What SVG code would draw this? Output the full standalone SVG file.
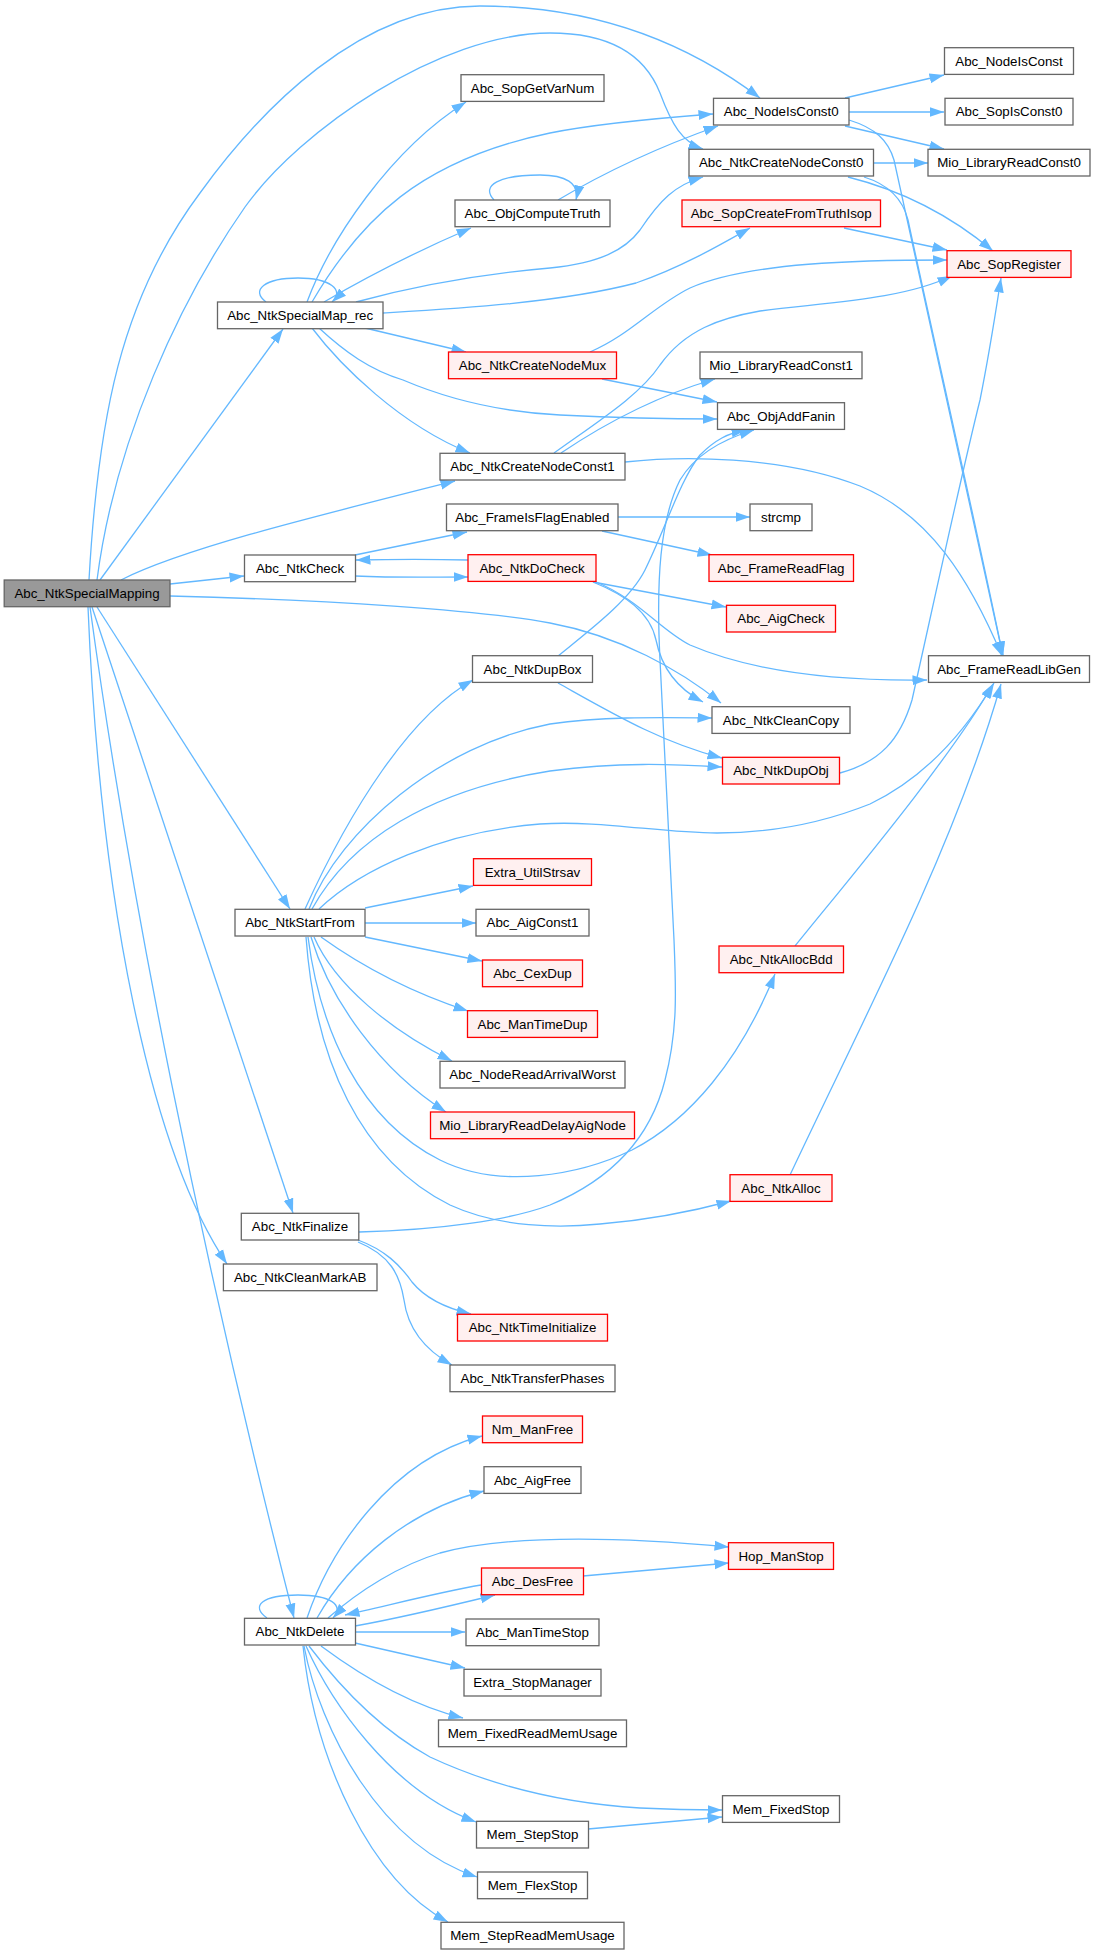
<svg xmlns="http://www.w3.org/2000/svg" width="1095" height="1955" viewBox="0 0 1095 1955">
<defs>
<style>
.node rect{fill:#fff;stroke:#666;stroke-width:1.3}
.red rect{fill:#FFF0F0;stroke:#F00}
.root rect{fill:#999;stroke:#666}
text{font-family:"Liberation Sans",Arial,sans-serif;font-size:13.33px;text-anchor:middle;fill:#000}
.edges path{fill:none;stroke:#63B8FF;stroke-width:1.3;marker-end:url(#arr)}
</style>
<marker id="arr" markerUnits="userSpaceOnUse" markerWidth="16" markerHeight="11" refX="14.5" refY="5.25" orient="auto"><path d="M0,0.25 L14.5,5.25 L0,10.25 z" fill="#63B8FF"/></marker>
</defs>
<rect width="1095" height="1955" fill="#fff"/>
<g class="edges">
<path d="M89,580 C98,420 120,300 200,193 C260,110 360,6 480,6 C600,6 690,45 760,98"/>
<path d="M97,580 C115,440 180,300 245,207 C300,130 440,33 550,33 C610,33 645,55 660,93 C672,125 682,142 703,149"/>
<path d="M100,580 L283,329"/>
<path d="M121,580 C180,550 300,520 455,481"/>
<path d="M170,584 L244,576"/>
<path d="M170,596 C330,600 480,610 550,623 C620,636 680,670 721,703"/>
<path d="M593,582 C625,595 650,612 656,640 C662,670 680,690 703,702"/>
<path d="M594,581 C640,600 660,630 690,645 C760,675 850,681 927,680"/>
<path d="M593,582 L726,607"/>
<path d="M355,555 L467,532"/>
<path d="M355,576 C400,578 430,577 468,577"/>
<path d="M468,560 C430,559 400,559 356,560"/>
<path d="M618,517 L750,517"/>
<path d="M602,531 L712,555"/>
<path d="M266,302 C250,290 265,278 298,278 C330,278 345,290 332,302"/>
<path d="M307,302 C330,240 390,150 466,102"/>
<path d="M312,302 C360,220 420,160 550,133 C600,123 660,118 713,114"/>
<path d="M324,302 C370,275 420,250 471,228"/>
<path d="M356,302 C400,290 470,275 550,268 C600,263 625,250 640,230 C660,200 675,185 703,177"/>
<path d="M383,313 C450,309 560,303 636,283 C680,268 720,245 750,228"/>
<path d="M365,328 L466,352"/>
<path d="M319,328 C345,352 370,370 403,380 C450,400 500,412 560,415 C620,418 670,419 717,419"/>
<path d="M312,328 C340,365 400,425 470,453"/>
<path d="M494,200 C480,185 500,175 540,175 C565,175 580,183 576,200"/>
<path d="M558,200 C600,175 650,150 718,126"/>
<path d="M845,98 L944,75"/>
<path d="M849,112 L944,112"/>
<path d="M845,126 L944,149"/>
<path d="M849,120 C875,128 888,140 894,160 C917,260 960,460 1003,656"/>
<path d="M873,163 L928,163"/>
<path d="M848,177 C900,190 950,215 993,251"/>
<path d="M864,177 C890,185 903,200 908,220 C925,300 975,520 1003,656"/>
<path d="M844,228 L947,250"/>
<path d="M590,352 C630,335 655,305 690,288 C750,262 860,260 947,260"/>
<path d="M602,379 L717,402"/>
<path d="M554,453 C600,420 640,395 660,365 C685,330 720,318 760,311 C830,302 900,300 952,276"/>
<path d="M561,453 C610,420 660,395 715,379"/>
<path d="M625,462 C680,456 780,455 860,486 C930,515 970,580 1002,656"/>
<path d="M558,656 C590,630 630,600 645,570 C665,530 680,480 700,455 C715,440 728,433 746,430"/>
<path d="M359,1232 C440,1230 510,1220 550,1205 C610,1180 650,1140 665,1080 C678,1030 676,990 674,940 C670,850 664,750 660,660 C656,580 660,520 680,480 C695,455 720,440 754,430"/>
<path d="M558,683 C610,712 660,742 722,758"/>
<path d="M840,773 C880,762 900,740 912,700 C930,620 960,480 980,400 C990,350 996,310 1001,278"/>
<path d="M305,909 C350,810 410,715 473,680"/>
<path d="M309,909 C340,830 440,745 550,724 C600,717 650,717 712,718"/>
<path d="M312,909 C350,840 430,790 550,771 C620,762 670,764 722,767"/>
<path d="M319,909 C360,870 440,832 540,824 C600,820 660,833 717,833 C780,833 830,820 870,804 C920,780 960,740 994,683"/>
<path d="M365,908 L473,886"/>
<path d="M365,923 L476,923"/>
<path d="M365,937 L482,961"/>
<path d="M321,937 C360,965 410,992 468,1011"/>
<path d="M314,937 C335,985 390,1030 452,1061"/>
<path d="M311,937 C330,1000 380,1070 446,1112"/>
<path d="M308,937 C320,1030 360,1120 440,1160 C500,1190 580,1175 632,1150 C690,1120 740,1060 775,974"/>
<path d="M306,937 C315,1060 360,1160 450,1205 C500,1228 560,1228 600,1224 C650,1220 690,1212 731,1201"/>
<path d="M795,946 C840,890 950,760 993,684"/>
<path d="M790,1175 C830,1090 880,990 920,900 C960,810 985,740 1001,684"/>
<path d="M97,607 L290,909"/>
<path d="M92,607 L293,1213"/>
<path d="M88,607 C100,900 150,1150 227,1264"/>
<path d="M90,607 C130,900 200,1250 294,1618"/>
<path d="M358,1240 C385,1250 400,1265 412,1282 C425,1298 445,1308 471,1314"/>
<path d="M358,1242 C390,1255 400,1275 404,1300 C408,1330 425,1350 452,1365"/>
<path d="M267,1618 C250,1606 262,1595 298,1595 C330,1595 345,1605 333,1618"/>
<path d="M307,1618 C330,1550 390,1460 482,1436"/>
<path d="M317,1618 C350,1560 410,1510 484,1491"/>
<path d="M328,1618 C360,1590 400,1565 440,1553 C500,1537 600,1535 729,1547"/>
<path d="M481,1585 C440,1592 390,1605 345,1615"/>
<path d="M355,1626 C400,1618 450,1606 495,1595"/>
<path d="M583,1576 L729,1563"/>
<path d="M355,1632 L465,1632"/>
<path d="M355,1643 L465,1668"/>
<path d="M321,1646 C360,1675 410,1705 463,1718"/>
<path d="M309,1646 C350,1700 390,1735 430,1757 C490,1785 560,1803 640,1808 C680,1810 700,1810 722,1810"/>
<path d="M306,1646 C330,1700 390,1790 476,1822"/>
<path d="M304,1646 C320,1730 380,1845 477,1877"/>
<path d="M303,1646 C315,1760 370,1880 448,1922"/>
<path d="M588,1829 L722,1817"/>
</g>
<g id="n_Abc_NtkSpecialMapping" class="node root"><rect x="4.2" y="580" width="165.8" height="26.7"/><text x="87" y="598">Abc_NtkSpecialMapping</text></g>
<g id="n_Abc_NtkSpecialMap_rec" class="node"><rect x="217.5" y="302" width="165.5" height="26.7"/><text x="300.2" y="320">Abc_NtkSpecialMap_rec</text></g>
<g id="n_Abc_NtkCheck" class="node"><rect x="244.5" y="555" width="111" height="26.7"/><text x="300" y="573">Abc_NtkCheck</text></g>
<g id="n_Abc_NtkStartFrom" class="node"><rect x="235" y="909.3" width="130" height="26.7"/><text x="300" y="927.3">Abc_NtkStartFrom</text></g>
<g id="n_Abc_NtkFinalize" class="node"><rect x="241.3" y="1213.3" width="117.5" height="26.7"/><text x="300" y="1231.3">Abc_NtkFinalize</text></g>
<g id="n_Abc_NtkCleanMarkAB" class="node"><rect x="223.4" y="1264" width="153.6" height="26.7"/><text x="300.2" y="1282">Abc_NtkCleanMarkAB</text></g>
<g id="n_Abc_NtkDelete" class="node"><rect x="244.5" y="1618.3" width="111" height="26.7"/><text x="300" y="1636.3">Abc_NtkDelete</text></g>
<g id="n_Abc_SopGetVarNum" class="node"><rect x="461" y="74.7" width="143" height="26.7"/><text x="532.5" y="92.7">Abc_SopGetVarNum</text></g>
<g id="n_Abc_ObjComputeTruth" class="node"><rect x="455" y="200" width="155" height="26.7"/><text x="532.5" y="218">Abc_ObjComputeTruth</text></g>
<g id="n_Abc_NtkCreateNodeMux" class="node red"><rect x="448.5" y="352" width="168" height="26.7"/><text x="532.5" y="370">Abc_NtkCreateNodeMux</text></g>
<g id="n_Abc_NtkCreateNodeConst1" class="node"><rect x="440" y="453.3" width="185" height="26.7"/><text x="532.5" y="471.3">Abc_NtkCreateNodeConst1</text></g>
<g id="n_Abc_FrameIsFlagEnabled" class="node"><rect x="446.5" y="504" width="171.5" height="26.7"/><text x="532.3" y="522">Abc_FrameIsFlagEnabled</text></g>
<g id="n_Abc_NtkDoCheck" class="node red"><rect x="468" y="554.7" width="128" height="26.7"/><text x="532" y="572.7">Abc_NtkDoCheck</text></g>
<g id="n_Abc_NtkDupBox" class="node"><rect x="472.5" y="655.7" width="120" height="26.7"/><text x="532.5" y="673.7">Abc_NtkDupBox</text></g>
<g id="n_Extra_UtilStrsav" class="node red"><rect x="473.5" y="858.7" width="118" height="26.7"/><text x="532.5" y="876.7">Extra_UtilStrsav</text></g>
<g id="n_Abc_AigConst1" class="node"><rect x="476" y="909.3" width="113" height="26.7"/><text x="532.5" y="927.3">Abc_AigConst1</text></g>
<g id="n_Abc_CexDup" class="node red"><rect x="482.5" y="960" width="100" height="26.7"/><text x="532.5" y="978">Abc_CexDup</text></g>
<g id="n_Abc_ManTimeDup" class="node red"><rect x="467.5" y="1010.7" width="130" height="26.7"/><text x="532.5" y="1028.7">Abc_ManTimeDup</text></g>
<g id="n_Abc_NodeReadArrivalWorst" class="node"><rect x="440" y="1061.3" width="185" height="26.7"/><text x="532.5" y="1079.3">Abc_NodeReadArrivalWorst</text></g>
<g id="n_Mio_LibraryReadDelayAigNode" class="node red"><rect x="430.5" y="1112" width="204" height="26.7"/><text x="532.5" y="1130">Mio_LibraryReadDelayAigNode</text></g>
<g id="n_Abc_NtkTimeInitialize" class="node red"><rect x="457.5" y="1314.3" width="150" height="26.7"/><text x="532.5" y="1332.3">Abc_NtkTimeInitialize</text></g>
<g id="n_Abc_NtkTransferPhases" class="node"><rect x="450" y="1365" width="165" height="26.7"/><text x="532.5" y="1383">Abc_NtkTransferPhases</text></g>
<g id="n_Nm_ManFree" class="node red"><rect x="482.5" y="1416" width="100" height="26.7"/><text x="532.5" y="1434">Nm_ManFree</text></g>
<g id="n_Abc_AigFree" class="node"><rect x="484" y="1466.7" width="97" height="26.7"/><text x="532.5" y="1484.7">Abc_AigFree</text></g>
<g id="n_Abc_DesFree" class="node red"><rect x="481.5" y="1568" width="102" height="26.7"/><text x="532.5" y="1586">Abc_DesFree</text></g>
<g id="n_Abc_ManTimeStop" class="node"><rect x="466" y="1619" width="133" height="26.7"/><text x="532.5" y="1637">Abc_ManTimeStop</text></g>
<g id="n_Extra_StopManager" class="node"><rect x="464" y="1669.3" width="137" height="26.7"/><text x="532.5" y="1687.3">Extra_StopManager</text></g>
<g id="n_Mem_FixedReadMemUsage" class="node"><rect x="438.5" y="1720" width="188" height="26.7"/><text x="532.5" y="1738">Mem_FixedReadMemUsage</text></g>
<g id="n_Mem_StepStop" class="node"><rect x="476.5" y="1821.3" width="112" height="26.7"/><text x="532.5" y="1839.3">Mem_StepStop</text></g>
<g id="n_Mem_FlexStop" class="node"><rect x="477.5" y="1872" width="110" height="26.7"/><text x="532.5" y="1890">Mem_FlexStop</text></g>
<g id="n_Mem_StepReadMemUsage" class="node"><rect x="441" y="1922.3" width="183" height="26.7"/><text x="532.5" y="1940.3">Mem_StepReadMemUsage</text></g>
<g id="n_Abc_NodeIsConst0" class="node"><rect x="713.5" y="98.3" width="135.5" height="26.7"/><text x="781.2" y="116.3">Abc_NodeIsConst0</text></g>
<g id="n_Abc_NtkCreateNodeConst0" class="node"><rect x="689" y="149.3" width="184.5" height="26.7"/><text x="781.2" y="167.3">Abc_NtkCreateNodeConst0</text></g>
<g id="n_Abc_SopCreateFromTruthIsop" class="node red"><rect x="682" y="200" width="198.5" height="26.7"/><text x="781.2" y="218">Abc_SopCreateFromTruthIsop</text></g>
<g id="n_Mio_LibraryReadConst1" class="node"><rect x="700" y="352" width="162" height="26.7"/><text x="781" y="370">Mio_LibraryReadConst1</text></g>
<g id="n_Abc_ObjAddFanin" class="node"><rect x="717.5" y="402.7" width="127" height="26.7"/><text x="781" y="420.7">Abc_ObjAddFanin</text></g>
<g id="n_strcmp" class="node"><rect x="750" y="504" width="62" height="26.7"/><text x="781" y="522">strcmp</text></g>
<g id="n_Abc_FrameReadFlag" class="node red"><rect x="709" y="554.7" width="144.5" height="26.7"/><text x="781.2" y="572.7">Abc_FrameReadFlag</text></g>
<g id="n_Abc_AigCheck" class="node red"><rect x="726.5" y="605.3" width="109" height="26.7"/><text x="781" y="623.3">Abc_AigCheck</text></g>
<g id="n_Abc_NtkCleanCopy" class="node"><rect x="712" y="706.7" width="138" height="26.7"/><text x="781" y="724.7">Abc_NtkCleanCopy</text></g>
<g id="n_Abc_NtkDupObj" class="node red"><rect x="722.5" y="757.3" width="117" height="26.7"/><text x="781" y="775.3">Abc_NtkDupObj</text></g>
<g id="n_Abc_NtkAllocBdd" class="node red"><rect x="719" y="946" width="124.5" height="26.7"/><text x="781.2" y="964">Abc_NtkAllocBdd</text></g>
<g id="n_Abc_NtkAlloc" class="node red"><rect x="730" y="1174.7" width="102" height="26.7"/><text x="781" y="1192.7">Abc_NtkAlloc</text></g>
<g id="n_Hop_ManStop" class="node red"><rect x="728.5" y="1542.7" width="105" height="26.7"/><text x="781" y="1560.7">Hop_ManStop</text></g>
<g id="n_Mem_FixedStop" class="node"><rect x="722.5" y="1795.7" width="117" height="26.7"/><text x="781" y="1813.7">Mem_FixedStop</text></g>
<g id="n_Abc_NodeIsConst" class="node"><rect x="944.5" y="47.7" width="129" height="26.7"/><text x="1009" y="65.7">Abc_NodeIsConst</text></g>
<g id="n_Abc_SopIsConst0" class="node"><rect x="945" y="98.3" width="128" height="26.7"/><text x="1009" y="116.3">Abc_SopIsConst0</text></g>
<g id="n_Mio_LibraryReadConst0" class="node"><rect x="928" y="149.3" width="162" height="26.7"/><text x="1009" y="167.3">Mio_LibraryReadConst0</text></g>
<g id="n_Abc_SopRegister" class="node red"><rect x="947" y="250.7" width="124" height="26.7"/><text x="1009" y="268.7">Abc_SopRegister</text></g>
<g id="n_Abc_FrameReadLibGen" class="node"><rect x="928.5" y="655.7" width="161" height="26.7"/><text x="1009" y="673.7">Abc_FrameReadLibGen</text></g>
</svg>
